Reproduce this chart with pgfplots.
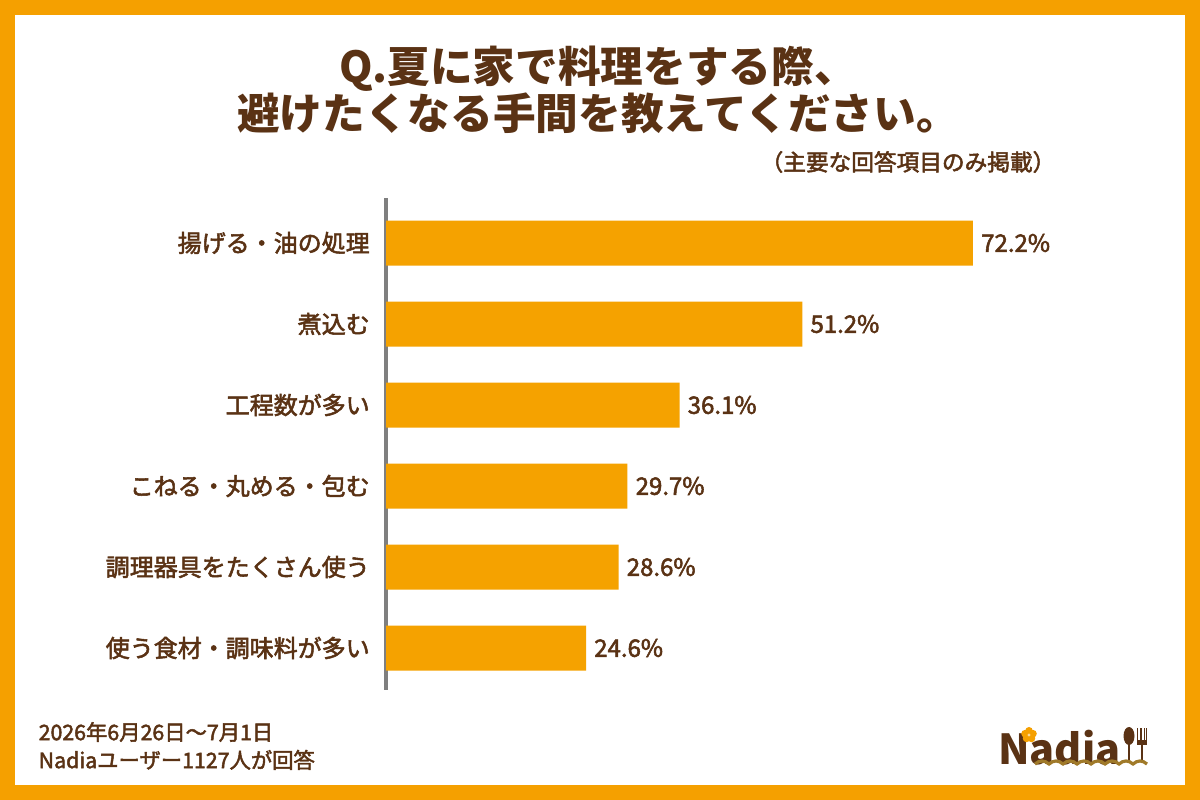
\documentclass[border=0pt]{standalone}
\usepackage{pgfplots}
\pgfplotsset{compat=1.18}
\usepackage{fontspec}
\setmainfont{Noto Sans CJK JP}
\newfontfamily\midweight{Noto Sans CJK JP}[FakeBold=2.2]

\definecolor{frameorange}{HTML}{F5A000}
\definecolor{barorange}{HTML}{F5A200}
\definecolor{ink}{HTML}{5A3214}
\definecolor{axisgray}{HTML}{7F7F7F}
\definecolor{logogold}{HTML}{A07A2A}

\begin{document}
\begin{tikzpicture}[x=0.75pt,y=0.75pt]
\useasboundingbox (0,0) rectangle (1200,800);
% frame and canvas
\fill[frameorange] (0,0) rectangle (1200,800);
\fill[white] (15,15) rectangle (1185,785);

% title
\node[align=center, text=ink, font=\fontsize{32pt}{33pt}\selectfont\bfseries]
  at (598,710) {Q.夏に家で料理をする際、\\避けたくなる手間を教えてください。};
\node[anchor=east, text=ink, font=\fontsize{17pt}{19pt}\selectfont\midweight]
  at (1060,638) {（主要な回答項目のみ掲載）};

\begin{axis}[
  at={(289.5pt,417.75pt)}, anchor=origin,
  x=6.0975pt, y=60.75pt,
  xmin=0, xmax=90, ymin=-0.55, ymax=5.52,
  y dir=reverse,
  hide x axis,
  axis y line*=left,
  axis line style={axisgray, line width=2.4pt, -},
  ytick={0,1,2,3,4,5},
  yticklabels={揚げる・油の処理, 煮込む, 工程数が多い, こねる・丸める・包む, 調理器具をたくさん使う, 使う食材・調味料が多い},
  major tick length=0pt,
  yticklabel style={anchor=east, inner sep=0pt, xshift=-12pt, text=ink,
    font=\fontsize{18pt}{20pt}\selectfont\midweight},
  xbar, bar width=33.75pt, bar shift=0pt,
  nodes near coords={\pgfmathprintnumber[fixed,precision=1,fixed zerofill,assume math mode=true]{\pgfplotspointmeta}\%},
  nodes near coords style={anchor=west, inner sep=0pt, xshift=6pt, text=ink,
    font=\fontsize{18pt}{20pt}\selectfont\midweight},
  point meta=explicit symbolic,
  clip=false,
]
\addplot[fill=barorange, draw=none] table[meta index=2] {
x    y  v
72.2 0  72.2
51.2 1  51.2
36.1 2  36.1
29.7 3  29.7
28.6 4  28.6
24.6 5  24.6
};
\end{axis}

% survey note
\node[anchor=west, align=left, text=ink, font=\fontsize{16pt}{21pt}\selectfont\midweight]
  at (34,54) {2026年6月26日～7月1日\\Nadiaユーザー1127人が回答};

% logo
\node[anchor=base west, inner sep=0pt, text=ink, font=\fontsize{31pt}{31pt}\selectfont\bfseries]
  at (998,36) {Nadia};
\foreach \a in {90,162,234,306,18}
  \fill[frameorange] (1029,65) ++(\a:4.2) circle (3.8);
\fill[white!60!frameorange] (1029,65) circle (1.6);
% spoon
\fill[ink] (1129,64) ellipse (5.5 and 9);
\fill[ink] (1127.6,38) rectangle (1130.4,58);
% fork
\fill[ink] (1140.6,38) rectangle (1143.4,58);
\fill[ink] (1137,55) rectangle (1147,60);
\foreach \t in {1137,1140.3,1143.6,1146}
  \fill[ink] (\t,58) rectangle ++(1.4,14);
% wave underline
\draw[logogold, line width=2.4pt] (1035,36)
  \foreach \k in {0,...,7} { .. controls ++(4.5,4) and ++(-4.5,4) .. ++(14,0) };
\end{tikzpicture}
\end{document}
